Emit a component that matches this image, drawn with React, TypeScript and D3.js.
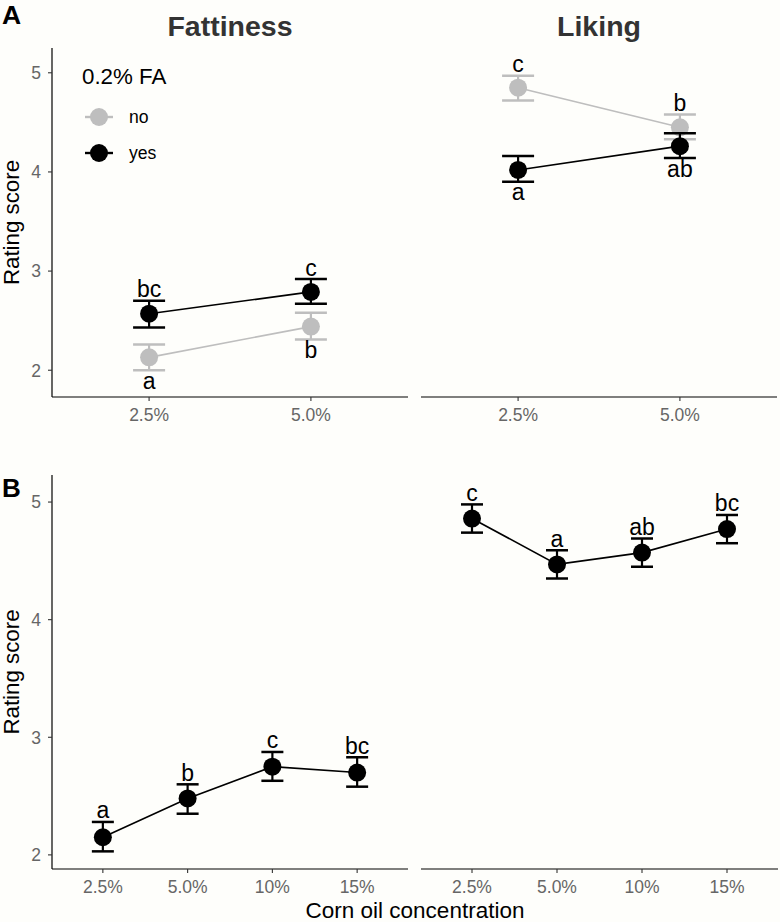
import React from "react";
import * as d3 from "d3";

// ---------- Data ----------
const catsA = ["2.5%", "5.0%"];
const groups = ["no", "yes"];
// Panel A – Fattiness
const fatNoMean = [2.13, 2.44];
const fatNoLo = [2.0, 2.31];
const fatNoHi = [2.26, 2.58];
const fatNoLab = ["a", "b"];
const fatYesMean = [2.57, 2.79];
const fatYesLo = [2.43, 2.67];
const fatYesHi = [2.7, 2.92];
const fatYesLab = ["bc", "c"];
// Panel A – Liking
const likNoMean = [4.85, 4.45];
const likNoLo = [4.72, 4.33];
const likNoHi = [4.97, 4.58];
const likNoLab = ["c", "b"];
const likYesMean = [4.02, 4.26];
const likYesLo = [3.9, 4.14];
const likYesHi = [4.16, 4.39];
const likYesLab = ["a", "ab"];

const catsB = ["2.5%", "5.0%", "10%", "15%"];
const fatBMean = [2.15, 2.48, 2.75, 2.7];
const fatBLo = [2.03, 2.35, 2.63, 2.58];
const fatBHi = [2.28, 2.6, 2.875, 2.83];
const fatBLab = ["a", "b", "c", "bc"];
const likBMean = [4.86, 4.47, 4.57, 4.77];
const likBLo = [4.74, 4.35, 4.45, 4.65];
const likBHi = [4.98, 4.59, 4.69, 4.89];
const likBLab = ["c", "a", "ab", "bc"];

const yTicks = [2, 3, 4, 5];
const facetTitles = ["Fattiness", "Liking"];

// ---------- Styles ----------
const FONT = "'Liberation Sans', Arial, Helvetica, sans-serif";
const GREY = "#bebebe";
const BLACK = "#000000";
const BG = "#fefefb";

type Series = {
  color: string;
  mean: number[];
  lo: number[];
  hi: number[];
  lab: string[];
  labPos: "above" | "below";
};

function Panel(props: {
  x0: number;
  x1: number;
  yTop: number;
  yBot: number;
  yDomain: [number, number];
  cats: string[];
  series: Series[];
  showY: boolean;
  capHalf: number;
}) {
  const { x0, x1, yTop, yBot, yDomain, cats, series, showY, capHalf } = props;
  const x = d3.scalePoint<string>().domain(cats).range([x0, x1]).padding(0.6);
  const y = d3.scaleLinear().domain(yDomain).range([yBot, yTop]);
  const line = d3
    .line<number>()
    .x((_, i) => x(cats[i]) as number)
    .y((d) => y(d));
  return (
    <g>
      {showY && (
        <g>
          <line x1={x0} x2={x0} y1={yTop} y2={yBot} stroke="#000" strokeWidth={1.2} />
          {yTicks.map((t) => (
            <g key={t}>
              <line x1={x0 - 4} x2={x0} y1={y(t)} y2={y(t)} stroke="#333" strokeWidth={1.1} />
              <text
                x={x0 - 11}
                y={y(t)}
                dy="0.36em"
                textAnchor="end"
                fontSize={17.5}
                fill="#666"
                fontFamily={FONT}
              >
                {t}
              </text>
            </g>
          ))}
        </g>
      )}
      <line x1={x0} x2={x1} y1={yBot} y2={yBot} stroke="#000" strokeWidth={1.2} />
      {cats.map((c) => (
        <g key={c}>
          <line x1={x(c)} x2={x(c)} y1={yBot} y2={yBot + 4} stroke="#333" strokeWidth={1.1} />
          <text
            x={x(c)}
            y={yBot + 24}
            textAnchor="middle"
            fontSize={17.5}
            fill="#666"
            fontFamily={FONT}
          >
            {c}
          </text>
        </g>
      ))}
      {series.map((s, si) => (
        <g key={si}>
          <path d={line(s.mean) || ""} fill="none" stroke={s.color} strokeWidth={1.6} />
          {s.mean.map((m, i) => {
            const cx = x(cats[i]) as number;
            return (
              <g key={i}>
                <line x1={cx} x2={cx} y1={y(s.lo[i])} y2={y(s.hi[i])} stroke={s.color} strokeWidth={2.2} />
                <line x1={cx - capHalf} x2={cx + capHalf} y1={y(s.lo[i])} y2={y(s.lo[i])} stroke={s.color} strokeWidth={2.5} />
                <line x1={cx - capHalf} x2={cx + capHalf} y1={y(s.hi[i])} y2={y(s.hi[i])} stroke={s.color} strokeWidth={2.5} />
                <circle cx={cx} cy={y(m)} r={9} fill={s.color} />
              </g>
            );
          })}
        </g>
      ))}
      {series.map((s, si) =>
        s.mean.map((m, i) => {
          const cx = x(cats[i]) as number;
          const ty = s.labPos === "above" ? y(s.hi[i]) - 3.5 : y(s.lo[i]) + 18.5;
          return (
            <text
              key={`${si}-${i}`}
              x={cx}
              y={ty}
              textAnchor="middle"
              fontSize={23}
              fill="#000"
              fontFamily={FONT}
            >
              {s.lab[i]}
            </text>
          );
        })
      )}
    </g>
  );
}

export default function App() {
  const W = 780;
  const H = 922;
  const leftA = { x0: 52, x1: 408 };
  const rightA = { x0: 421, x1: 777 };
  const leftB = { x0: 52, x1: 408 };
  const rightB = { x0: 421, x1: 778 };
  const yA = { top: 48, bot: 397, dom: [1.73, 5.25] as [number, number] };
  const yB = { top: 475, bot: 869, dom: [1.88, 5.23] as [number, number] };

  const sFatA: Series[] = [
    { color: GREY, mean: fatNoMean, lo: fatNoLo, hi: fatNoHi, lab: fatNoLab, labPos: "below" },
    { color: BLACK, mean: fatYesMean, lo: fatYesLo, hi: fatYesHi, lab: fatYesLab, labPos: "above" },
  ];
  const sLikA: Series[] = [
    { color: GREY, mean: likNoMean, lo: likNoLo, hi: likNoHi, lab: likNoLab, labPos: "above" },
    { color: BLACK, mean: likYesMean, lo: likYesLo, hi: likYesHi, lab: likYesLab, labPos: "below" },
  ];
  const sFatB: Series[] = [
    { color: BLACK, mean: fatBMean, lo: fatBLo, hi: fatBHi, lab: fatBLab, labPos: "above" },
  ];
  const sLikB: Series[] = [
    { color: BLACK, mean: likBMean, lo: likBLo, hi: likBHi, lab: likBLab, labPos: "above" },
  ];

  const legendColors = [GREY, BLACK];

  return (
    <svg
      width={W}
      height={H}
      style={{ position: "absolute", left: 0, top: 0, background: BG }}
      fontFamily={FONT}
    >
      <rect x={0} y={0} width={W} height={H} fill={BG} />
      {/* Panel labels */}
      <text x={2} y={24} fontSize={26.5} fontWeight="bold" fill="#000">A</text>
      <text x={2} y={497} fontSize={26} fontWeight="bold" fill="#000">B</text>
      {/* Facet titles */}
      <text x={(leftA.x0 + leftA.x1) / 2} y={36} textAnchor="middle" fontSize={28.5} fontWeight="bold" fill="#333">
        {facetTitles[0]}
      </text>
      <text x={(rightA.x0 + rightA.x1) / 2} y={36} textAnchor="middle" fontSize={28.5} fontWeight="bold" fill="#333">
        {facetTitles[1]}
      </text>
      {/* Y axis titles */}
      <text
        transform={`translate(19,${(yA.top + yA.bot) / 2}) rotate(-90)`}
        textAnchor="middle"
        fontSize={22.3}
        fill="#000"
      >
        Rating score
      </text>
      <text
        transform={`translate(19,${(yB.top + yB.bot) / 2}) rotate(-90)`}
        textAnchor="middle"
        fontSize={22.3}
        fill="#000"
      >
        Rating score
      </text>
      {/* X axis title */}
      <text x={(leftB.x0 + rightB.x1) / 2} y={918} textAnchor="middle" fontSize={22.5} fill="#000">
        Corn oil concentration
      </text>

      <Panel x0={leftA.x0} x1={leftA.x1} yTop={yA.top} yBot={yA.bot} yDomain={yA.dom} cats={catsA} series={sFatA} showY capHalf={16} />
      <Panel x0={rightA.x0} x1={rightA.x1} yTop={yA.top} yBot={yA.bot} yDomain={yA.dom} cats={catsA} series={sLikA} showY={false} capHalf={16} />
      <Panel x0={leftB.x0} x1={leftB.x1} yTop={yB.top} yBot={yB.bot} yDomain={yB.dom} cats={catsB} series={sFatB} showY capHalf={11} />
      <Panel x0={rightB.x0} x1={rightB.x1} yTop={yB.top} yBot={yB.bot} yDomain={yB.dom} cats={catsB} series={sLikB} showY={false} capHalf={11} />

      {/* Legend */}
      <text x={82} y={84} fontSize={22.3} fill="#000">0.2% FA</text>
      {groups.map((g, i) => {
        const ly = 117 + i * 36;
        return (
          <g key={g}>
            <line x1={85} x2={113} y1={ly} y2={ly} stroke={legendColors[i]} strokeWidth={2.4} />
            <circle cx={99} cy={ly} r={9} fill={legendColors[i]} />
            <text x={129} y={ly} dy="0.36em" fontSize={17.6} fill="#000">{g}</text>
          </g>
        );
      })}
    </svg>
  );
}
